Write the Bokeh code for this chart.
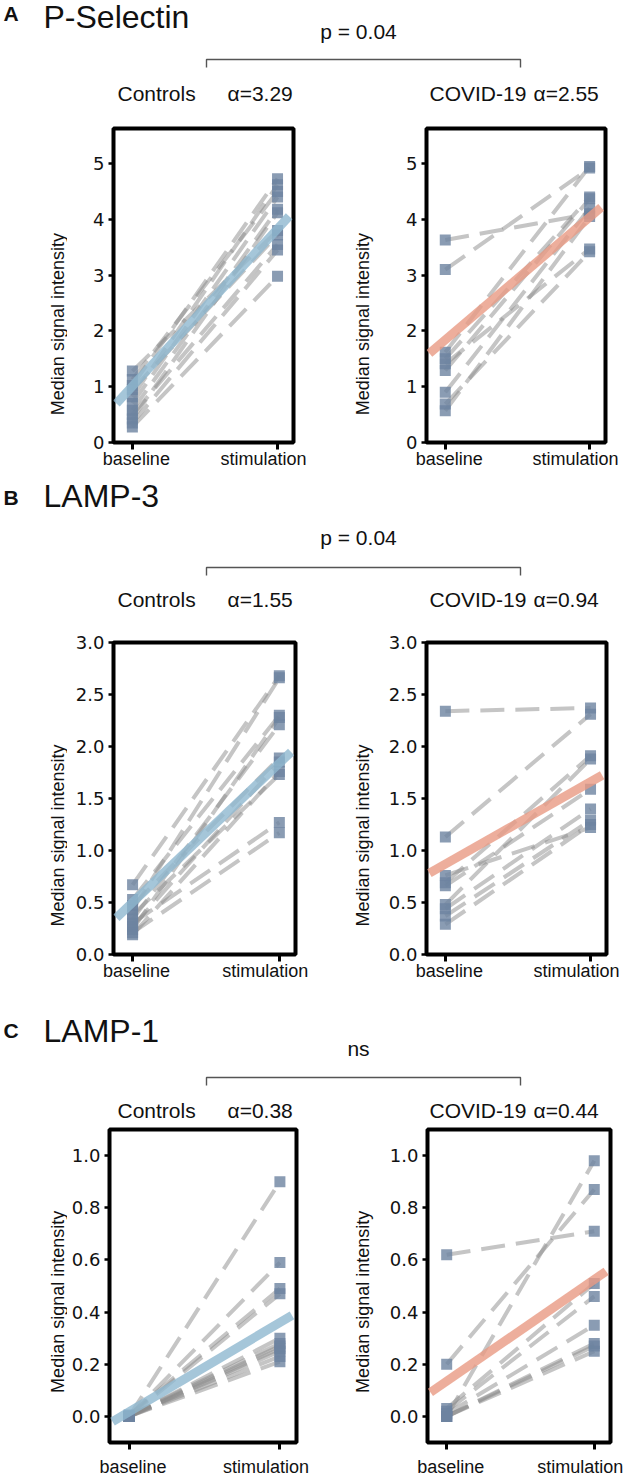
import math
from bokeh.plotting import figure
from bokeh.layouts import column, row
from bokeh.models import Range1d, FixedTicker, PrintfTickFormatter, ColumnDataSource, LinearAxis
from bokeh.core.properties import value
from bokeh.embed import file_html
from bokeh.resources import INLINE

# ---------------- data ----------------
conditions = ["baseline", "stimulation"]
groups = ["Controls", "COVID-19"]
markers = ["P-Selectin", "LAMP-3", "LAMP-1"]
letters = ["A", "B", "C"]
p_texts = ["p = 0.04", "p = 0.04", "ns"]
y_title = "Median signal intensity"

ps_ctrl_alpha = "α=3.29"
ps_cov_alpha = "α=2.55"
l3_ctrl_alpha = "α=1.55"
l3_cov_alpha = "α=0.94"
l1_ctrl_alpha = "α=0.38"
l1_cov_alpha = "α=0.44"

ps_ctrl_base = [1.28, 1.13, 1.02, 0.95, 0.82, 0.70, 0.58, 0.50, 0.42, 0.35, 0.28]
ps_ctrl_stim = [3.80, 4.50, 4.73, 3.72, 4.62, 4.40, 4.18, 3.55, 4.12, 3.45, 2.98]
ps_ctrl_fit = [1.01, 3.83]
ps_cov_base = [3.63, 3.10, 1.62, 1.50, 1.41, 1.29, 0.90, 0.69, 0.57]
ps_cov_stim = [4.10, 4.92, 4.95, 4.40, 3.47, 4.37, 4.20, 3.42, 4.05]
ps_cov_fit = [1.84, 4.04]

l3_ctrl_base = [0.67, 0.53, 0.47, 0.43, 0.38, 0.34, 0.30, 0.27, 0.24, 0.21, 0.19]
l3_ctrl_stim = [2.68, 2.30, 1.89, 2.66, 1.73, 2.21, 1.27, 1.85, 2.28, 1.17, 1.76]
l3_ctrl_fit = [0.50, 1.84]
l3_cov_base = [2.34, 1.13, 0.76, 0.69, 0.66, 0.48, 0.44, 0.37, 0.29]
l3_cov_stim = [2.37, 2.31, 1.22, 1.91, 1.59, 1.88, 1.40, 1.29, 1.25]
l3_cov_fit = [0.87, 1.66]

l1_ctrl_base = [0.0, 0.0, 0.005, 0.0, 0.0, 0.003, 0.0, 0.0, 0.0, 0.0, 0.0]
l1_ctrl_stim = [0.90, 0.59, 0.49, 0.47, 0.30, 0.28, 0.27, 0.26, 0.25, 0.23, 0.21]
l1_ctrl_fit = [0.018, 0.36]
l1_cov_base = [0.62, 0.20, 0.0, 0.03, 0.02, 0.01, 0.0, 0.0, 0.0]
l1_cov_stim = [0.71, 0.87, 0.98, 0.51, 0.46, 0.35, 0.28, 0.27, 0.25]
l1_cov_fit = [0.135, 0.525]

ps_ticks = [0, 1, 2, 3, 4, 5]
l3_ticks = [0.0, 0.5, 1.0, 1.5, 2.0, 2.5, 3.0]
l1_ticks = [0.0, 0.2, 0.4, 0.6, 0.8, 1.0]

# ---------------- style / layout ----------------
FONT = "Liberation Sans"
TICK_FONT = "DejaVu Sans"
TXT = "#111111"
BLUE = "#8fb8cf"
SALMON = "#e89a83"
POINT = "#6d83a0"
DASH = "#8c8c8c"
XLIM = (-0.13, 1.11)
W = 627
LAB_L = (0, 67)      # x-extent of the left y-title strip
LAB_R = (330, 375)   # x-extent of the right y-title strip
SUB_L = (67, 330)
SUB_R = (375, 627)


def header(top, bottom, letter, title, letter_c, title_c, ptxt, p_c, br_y, ctrl_alpha, cov_alpha, sub_c):
    p = figure(width=W, height=bottom - top, x_range=Range1d(0, W),
               y_range=Range1d(bottom, top), toolbar_location=None,
               output_backend="svg", x_axis_type=None, y_axis_type=None,
               min_border=0, outline_line_color=None)
    common = dict(text_font=value(FONT), text_color=TXT, text_baseline="middle")
    p.text(x=[3], y=[letter_c], text=[letter], text_font_style="bold",
           text_font_size="21px", **common)
    p.text(x=[43], y=[title_c], text=[title], text_font_size="32px", **common)
    p.text(x=[358], y=[p_c], text=[ptxt], text_font_size="21px",
           text_align="center", **common)
    p.line(x=[206, 206, 520, 520], y=[br_y + 8, br_y, br_y, br_y + 8],
           line_color="#555555", line_width=1.4)
    p.text(x=[117, 227, 429, 533], y=[sub_c] * 4,
           text=[groups[0], ctrl_alpha, groups[1], cov_alpha],
           text_font_size="21px", **common)
    return p


def ytitle(xext, yext, cx, cy):
    x0, x1 = xext
    top, bottom = yext
    p = figure(width=x1 - x0, height=bottom - top, x_range=Range1d(0, x1 - x0),
               y_range=Range1d(0, bottom - top), toolbar_location=None,
               output_backend="svg", x_axis_type=None, y_axis_type=None,
               min_border=0, outline_line_color=None)
    p.text(x=[cx - x0], y=[bottom - cy], text=[y_title], angle=math.pi / 2,
           text_align="center", text_baseline="middle", text_font=value(FONT),
           text_font_size="18px", text_color=TXT)
    return p


def sub(fig_x, fig_y, fr_x, fr_y, ylim, yticks, fmt, base, stim, fit, fit_color, lab_standoff):
    fl, fr_ = fig_x
    ft, fb = fig_y
    xl, xr = fr_x
    yt, yb = fr_y
    p = figure(width=fr_ - fl, height=fb - ft, x_range=Range1d(*XLIM), y_range=Range1d(*ylim),
               toolbar_location=None, output_backend="svg",
               min_border_left=xl - fl, min_border_right=fr_ - xr,
               min_border_top=yt - ft, min_border_bottom=fb - yb)
    p.outline_line_color = "black"
    p.outline_line_width = 4
    p.outline_line_alpha = 1.0
    p.grid.visible = False

    # tick marks at the two conditions
    p.xaxis.ticker = FixedTicker(ticks=[0, 1])
    p.xaxis.major_label_text_color = None
    p.xaxis.major_label_text_font_size = "1px"
    p.xaxis.major_label_standoff = 0
    p.xaxis.major_tick_out = 7
    p.xaxis.major_tick_in = 0
    p.xaxis.major_tick_line_width = 3
    p.xaxis.major_tick_line_color = "black"
    p.xaxis.minor_tick_line_color = None
    p.xaxis.axis_line_color = None

    # condition names (slightly inset, as in the reference)
    wpx = xr - xl
    ux = wpx / (XLIM[1] - XLIM[0])
    s0 = (0 - XLIM[0]) * ux
    s1 = (1 - XLIM[0]) * ux
    k = (s1 - 14) - (s0 + 4)
    a = -(s0 + 4) / k
    p.extra_x_ranges = {"lab": Range1d(a, a + wpx / k)}
    lab_axis = LinearAxis(x_range_name="lab", ticker=FixedTicker(ticks=[0, 1]),
                          major_label_overrides={0: conditions[0], 1: conditions[1]})
    lab_axis.major_tick_line_color = None
    lab_axis.minor_tick_line_color = None
    lab_axis.axis_line_color = None
    lab_axis.major_label_standoff = lab_standoff
    lab_axis.major_label_text_font = FONT
    lab_axis.major_label_text_font_size = "18px"
    lab_axis.major_label_text_color = TXT
    p.add_layout(lab_axis, "below")

    p.yaxis.ticker = FixedTicker(ticks=yticks)
    p.yaxis.formatter = PrintfTickFormatter(format=fmt)
    p.yaxis.major_label_text_font = TICK_FONT
    p.yaxis.major_label_text_font_size = "18px"
    p.yaxis.major_label_text_color = TXT
    p.yaxis.major_tick_out = 5
    p.yaxis.major_tick_in = 0
    p.yaxis.major_tick_line_width = 2.5
    p.yaxis.major_tick_line_color = "black"
    p.yaxis.minor_tick_line_color = None
    p.yaxis.axis_line_color = None
    p.yaxis.major_label_standoff = 4

    n = len(base)
    src = ColumnDataSource(dict(x0=[0] * n, y0=base, x1=[1] * n, y1=stim))
    p.segment(x0="x0", y0="y0", x1="x1", y1="y1", source=src, line_color=DASH,
              line_alpha=0.5, line_width=4, line_dash="24 11")
    p.scatter(x=[0] * n + [1] * len(stim), y=list(base) + list(stim), marker="square",
              size=11, fill_color=POINT, fill_alpha=0.8, line_color=None)
    fx = [-0.11, 1.08]
    fy = [fit[0] + (fit[1] - fit[0]) * x for x in fx]
    p.line(fx, fy, line_color=fit_color, line_width=9, line_alpha=0.8, line_cap="butt")
    return p


def panel_row(yext, frL, frR, fyL, fyR, ylim, yticks, fmt, cL, cR, cy, lab_standoff):
    bL, sL, fL = cL
    bR, sR, fR = cR
    return row(
        ytitle(LAB_L, yext, 57, cy),
        sub(SUB_L, yext, frL, fyL, ylim, yticks, fmt, bL, sL, fL, BLUE, lab_standoff),
        ytitle(LAB_R, yext, 362, cy),
        sub(SUB_R, yext, frR, fyR, ylim, yticks, fmt, bR, sR, fR, SALMON, lab_standoff),
    )


hA = header(0, 112, letters[0], markers[0], 13, 16, p_texts[0], 31, 59, ps_ctrl_alpha, ps_cov_alpha, 93)
rA = panel_row((112, 478), (113, 293), (426, 605), (128, 442), (128, 442), (0, 5.63), ps_ticks, "%d",
               (ps_ctrl_base, ps_ctrl_stim, ps_ctrl_fit), (ps_cov_base, ps_cov_stim, ps_cov_fit), 340, -7)

hB = header(478, 618, letters[1], markers[1], 497, 495, p_texts[1], 537, 567, l3_ctrl_alpha, l3_cov_alpha, 599)
rB = panel_row((618, 985), (113, 295), (426, 606), (642, 954), (642, 954), (0, 3.0), l3_ticks, "%.1f",
               (l3_ctrl_base, l3_ctrl_stim, l3_ctrl_fit), (l3_cov_base, l3_cov_stim, l3_cov_fit), 845, -7)

hC = header(985, 1124, letters[2], markers[2], 1030, 1030, p_texts[2], 1048, 1077, l1_ctrl_alpha, l1_cov_alpha, 1110)
rC = panel_row((1124, 1480), (109, 296), (427, 610), (1129, 1447), (1129, 1442), (-0.1, 1.1), l1_ticks, "%.1f",
               (l1_ctrl_base, l1_ctrl_stim, l1_ctrl_fit), (l1_cov_base, l1_cov_stim, l1_cov_fit), 1320, 1)

layout = column(hA, rA, hB, rB, hC, rC)

with open("out.html", "w") as f:
    f.write(file_html(layout, INLINE))
